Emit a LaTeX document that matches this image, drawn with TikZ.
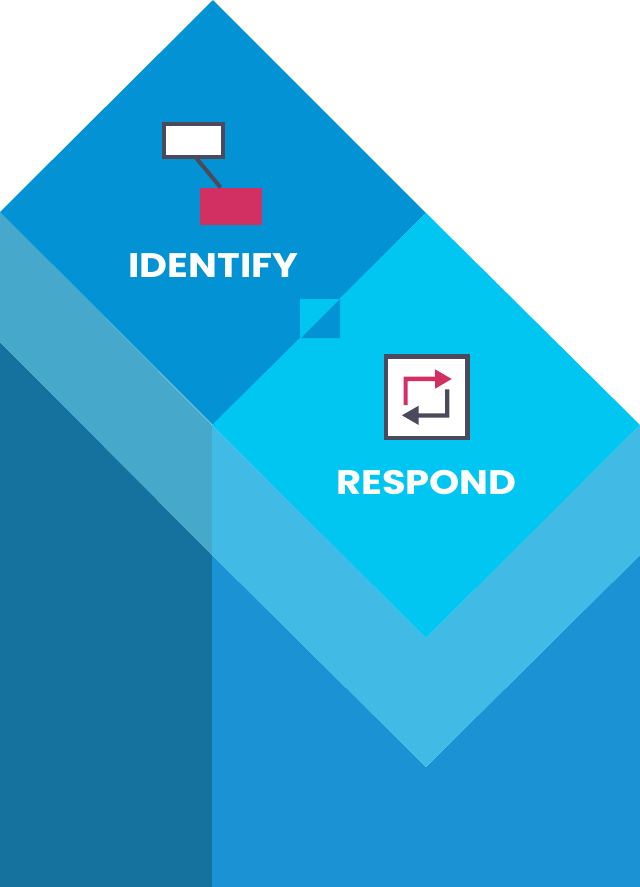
\documentclass[tikz,border=0pt]{standalone}
\usepackage{fontspec}
\usepackage{graphicx}
\setmainfont{Poppins}
\definecolor{dblue}{HTML}{0392D3}
\definecolor{cyanb}{HTML}{00C6F1}
\definecolor{lband}{HTML}{46A9CC}
\definecolor{rband}{HTML}{41BBE6}
\definecolor{dleft}{HTML}{15729E}
\definecolor{rblue}{HTML}{1A92D3}
\definecolor{ink}{HTML}{4A4A5C}
\definecolor{rose}{HTML}{D22F62}
\newcommand{\widetext}[1]{\scalebox{1.13}[1]{\fontsize{34}{36}\selectfont\bfseries #1}}
\tikzset{x=1pt,y=-1pt,
  lab/.style={text=white,inner sep=0pt}}
\begin{document}
\begin{tikzpicture}
\useasboundingbox (0,0) rectangle (640,887);
\fill[white] (0,0) rectangle (640,887);
\fill[dleft] (0,342) -- (212,555) -- (212,887) -- (0,887) -- cycle;
\fill[rblue] (212,555) -- (426,767) -- (640,555) -- (640,887) -- (212,887) -- cycle;
\fill[lband] (0,212) -- (212,425) -- (212,555) -- (0,342) -- cycle;
\fill[rband] (212,425) -- (426,638) -- (640,425) -- (640,555) -- (426,767) -- (212,555) -- cycle;
\fill[dblue] (213,0) -- (426,213) -- (213,425) -- (0,212) -- cycle;
\fill[cyanb] (426,213) -- (640,425) -- (426,638) -- (212,425) -- cycle;
\fill[cyanb] (300,299) rectangle (340,338);
\fill[dblue] (340,299) -- (340,338) -- (301,338) -- cycle;
\node[draw=ink,fill=white,line width=4pt,inner sep=0pt,minimum width=58.400pt,minimum height=33.300pt] (a) at (193.5,140.7) {};
\node[fill=rose,inner sep=0pt,minimum width=62pt,minimum height=37.500pt] (b) at (231,206.3) {};
\draw[ink,line width=4pt] ([xshift=3pt,yshift=1pt]a.south) -- ([xshift=-10.500pt]b.north);
\node[lab] (identify) at (213.5,265.500) {\widetext{IDENTIFY}};
\node[draw=ink,fill=white,line width=4.5pt,inner sep=0pt,minimum width=81.500pt,minimum height=81.500pt] (c) at (426.5,397) {};
\fill[rose] (403.5,405) -- (403.5,376.7) -- (435,376.7) -- (435,369.3) -- (451.7,379) -- (435,388.700) -- (435,381) -- (407.7,381) -- (407.7,405) -- cycle;
\fill[ink] (449.3,389.300) -- (449.3,417.700) -- (418.7,417.700) -- (418.7,425) -- (402,415.300) -- (418.7,405.700) -- (418.7,413.300) -- (445.2,413.300) -- (445.2,389.300) -- cycle;
\node[lab] (respond) at (426.500,482.800) {\widetext{RESPOND}};
\end{tikzpicture}
\end{document}
